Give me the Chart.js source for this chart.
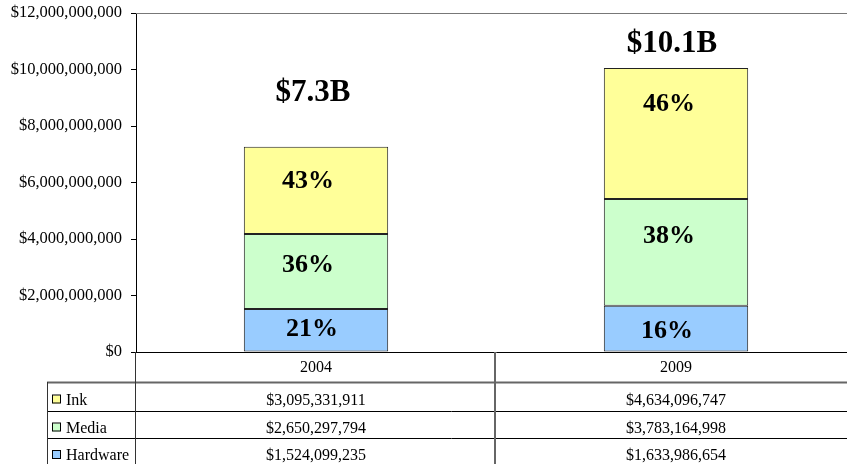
<!DOCTYPE html>
<html>
<head>
<meta charset="utf-8">
<script src="https://cdn.jsdelivr.net/npm/chart.js@4"></script>
<style>
  html, body { margin: 0; padding: 0; background: #fff; overflow: hidden; }
  #wrap { width: 847px; height: 464px; overflow: hidden; }
  #box { width: 856px; height: 464px; }
</style>
</head>
<body>
<div id="wrap"><div id="box"><canvas id="chart"></canvas></div></div>
<script>
/* ---------- data ---------- */
const years = ['2004', '2009'];
const inkValues = [3095331911, 4634096747];
const mediaValues = [2650297794, 3783164998];
const hardwareValues = [1524099235, 1633986654];
const yTicks = [0, 2e9, 4e9, 6e9, 8e9, 10e9, 12e9];

const FONT = '"Liberation Serif", "Times New Roman", serif';
const seriesNames = ['Hardware', 'Media', 'Ink'];
const seriesColors = ['#99CCFF', '#CCFFCC', '#FFFF99'];
const seriesValues = [hardwareValues, mediaValues, inkValues];

const money = v => '$' + Math.round(v).toLocaleString('en-US');
const totals = years.map((_, i) => seriesValues.reduce((s, arr) => s + arr[i], 0));

/* label nudges in px (the original labels were placed by hand) */
const pctNudgeX = [[-4, -9], [-8, -7], [-8, -7]];
const pctNudgeY = [[-1, 3], [-6, -16], [-9, -29]];
const totalNudgeX = [-3, -4];
const totalNudgeY = [-54, -24];

/* ---------- labels on the bars ---------- */
const barLabels = {
  id: 'barLabels',
  afterDatasetsDraw(chart) {
    const ctx = chart.ctx;
    ctx.save();
    ctx.fillStyle = '#000';
    ctx.textAlign = 'center';
    ctx.textBaseline = 'middle';
    chart.data.datasets.forEach((ds, di) => {
      const meta = chart.getDatasetMeta(di);
      meta.data.forEach((bar, i) => {
        const pct = Math.round(ds.data[i] / totals[i] * 100) + '%';
        ctx.font = 'bold 26px ' + FONT;
        ctx.fillText(pct, bar.x + pctNudgeX[di][i], (bar.y + bar.base) / 2 + pctNudgeY[di][i]);
      });
    });
    const top = chart.getDatasetMeta(chart.data.datasets.length - 1);
    top.data.forEach((bar, i) => {
      ctx.font = 'bold 31px ' + FONT;
      ctx.fillText('$' + (totals[i] / 1e9).toFixed(1) + 'B', bar.x + totalNudgeX[i], bar.y + totalNudgeY[i]);
    });
    ctx.restore();
  }
};

/* ---------- data table under the plot ---------- */
const dataTable = {
  id: 'dataTable',
  afterDraw(chart) {
    const ctx = chart.ctx;
    const area = chart.chartArea;
    const xs = chart.scales.x;
    const H = chart.height;
    const rowTops = [382, 411, 438, 466];
    const left = 47;
    const sep = (xs.getPixelForValue(0) + xs.getPixelForValue(1)) / 2;

    ctx.save();
    // top border of plot
    ctx.strokeStyle = '#777';
    ctx.lineWidth = 1;
    ctx.beginPath();
    ctx.moveTo(area.left, area.top + 0.5);
    ctx.lineTo(area.right, area.top + 0.5);
    ctx.stroke();

    // horizontal rules
    rowTops.forEach((y, r) => {
      ctx.strokeStyle = r === 0 ? '#666' : '#000';
      ctx.lineWidth = r === 0 ? 2 : 1;
      ctx.beginPath();
      ctx.moveTo(left, y + 0.5);
      ctx.lineTo(area.right, y + 0.5);
      ctx.stroke();
    });

    // vertical rules
    ctx.strokeStyle = '#333';
    ctx.lineWidth = 1;
    ctx.beginPath();
    ctx.moveTo(area.left - 0.5, area.bottom);
    ctx.lineTo(area.left - 0.5, H);
    ctx.moveTo(left + 0.5, rowTops[0]);
    ctx.lineTo(left + 0.5, H);
    ctx.stroke();
    ctx.strokeStyle = '#666';
    ctx.lineWidth = 2;
    ctx.beginPath();
    ctx.moveTo(Math.round(sep) - 1, area.bottom);
    ctx.lineTo(Math.round(sep) - 1, H);
    ctx.stroke();

    // rows: Ink, Media, Hardware
    ctx.font = '16px ' + FONT;
    ctx.textBaseline = 'middle';
    for (let r = 0; r < 3; r++) {
      const si = 2 - r;
      const cy = (rowTops[r] + rowTops[r + 1]) / 2 + 4;
      ctx.fillStyle = seriesColors[si];
      ctx.fillRect(52, cy - 5, 8, 8);
      ctx.strokeStyle = '#000';
      ctx.lineWidth = 1;
      ctx.strokeRect(52.5, cy - 5.5, 8, 8);
      ctx.fillStyle = '#000';
      ctx.textAlign = 'left';
      ctx.fillText(seriesNames[si], 66, cy);
      ctx.textAlign = 'center';
      seriesValues[si].forEach((v, i) => {
        ctx.fillText(money(v), xs.getPixelForValue(i), cy);
      });
    }
    ctx.restore();
  }
};

new Chart(document.getElementById('chart'), {
  type: 'bar',
  data: {
    labels: years,
    datasets: seriesNames.map((name, si) => ({
      label: name,
      data: seriesValues[si],
      backgroundColor: seriesColors[si],
      borderColor: '#222',
      borderWidth: 1,
      borderSkipped: false,
      barPercentage: 0.401,
      categoryPercentage: 1
    }))
  },
  options: {
    responsive: true,
    maintainAspectRatio: false,
    animation: false,
    layout: { padding: { top: 13, bottom: 82, left: 0, right: 0 } },
    plugins: { legend: { display: false }, tooltip: { enabled: false } },
    scales: {
      x: {
        stacked: true,
        afterFit: s => { s.height = 30; s.paddingLeft = 0; s.paddingRight = 0; },
        grid: { display: false, drawTicks: false },
        border: { display: true, color: '#000', width: 1 },
        ticks: { color: '#000', font: { family: FONT, size: 16 }, padding: 6 }
      },
      y: {
        stacked: true,
        min: 0,
        max: 12e9,
        afterFit: s => { s.width = 136; s.paddingTop = 0; s.paddingBottom = 0; },
        afterBuildTicks: s => { s.ticks = yTicks.map(v => ({ value: v })); },
        grid: { drawOnChartArea: false, drawTicks: true, tickLength: 5, tickColor: '#000' },
        border: { display: true, color: '#000', width: 1 },
        ticks: {
          color: '#000',
          font: { family: FONT, size: 16.5 },
          padding: 9,
          callback: v => money(v)
        }
      }
    }
  },
  plugins: [barLabels, dataTable]
});
</script>
</body>
</html>
